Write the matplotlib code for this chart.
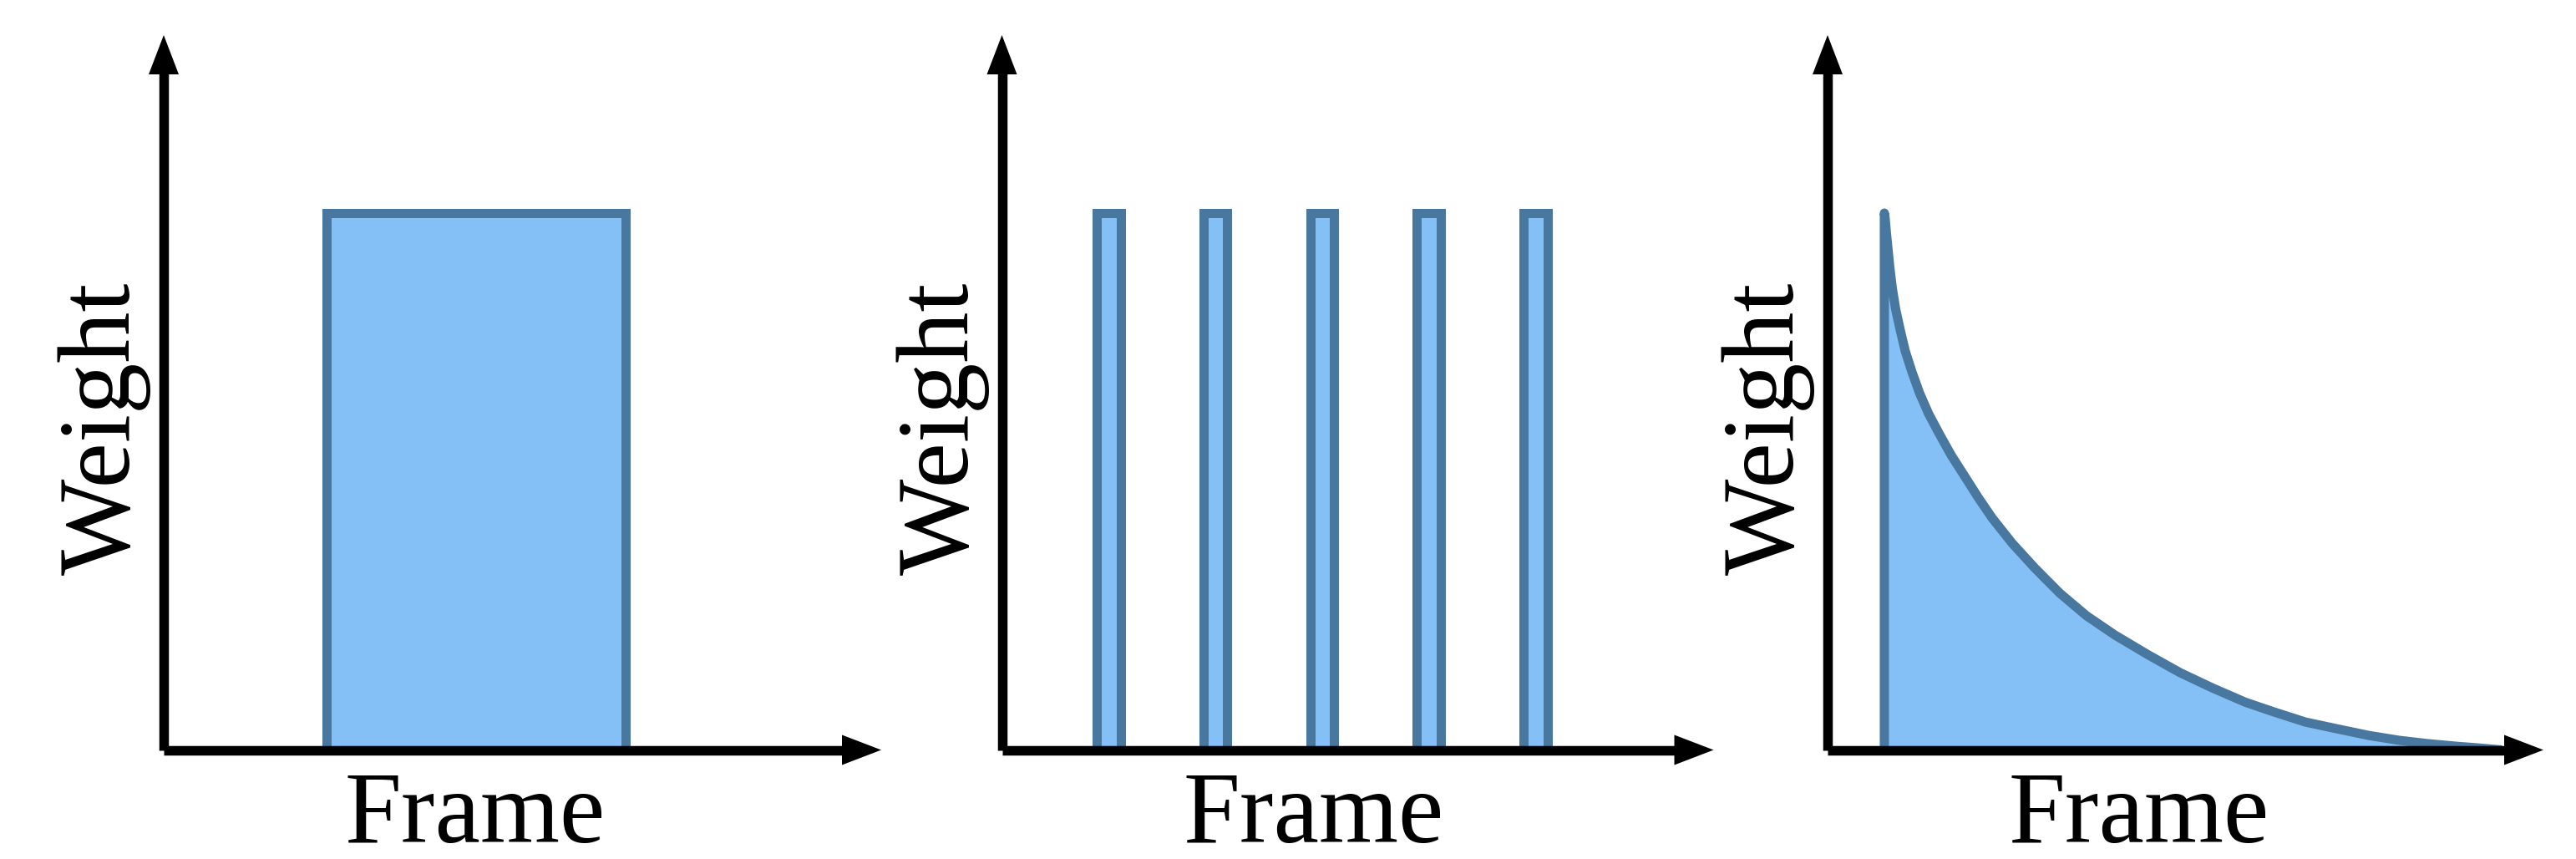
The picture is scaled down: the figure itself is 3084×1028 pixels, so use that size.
import matplotlib
matplotlib.use("Agg")
import matplotlib.pyplot as plt
from matplotlib.patches import Polygon
from matplotlib.lines import Line2D
from matplotlib.transforms import IdentityTransform

# ---------------- data (frame position in % of axis length, weight) ----------------
uniform_start = 22.7
uniform_end = 64.4
uniform_weight = 1.0

sparse_centers = [15.0, 30.0, 45.0, 60.0, 75.0]
sparse_width = 3.36
sparse_weights = [1.0, 1.0, 1.0, 1.0, 1.0]

decay_frames = [7.93, 7.93, 8.05, 8.23, 8.46, 8.69, 9.04, 9.51, 10.15, 10.85, 11.79,
                12.84, 14.12, 15.64, 17.27, 19.14, 21.00, 22.99, 25.79, 28.94, 32.44,
                36.17, 40.14, 44.81, 49.24, 53.68, 58.34, 62.31, 66.74, 70.95, 75.61,
                79.81, 83.66, 87.75, 90.67, 94.17]
decay_weights = [0.0, 1.0, 0.989, 0.961, 0.930, 0.899, 0.860, 0.821, 0.782, 0.743, 0.704,
                 0.665, 0.626, 0.588, 0.549, 0.510, 0.471, 0.432, 0.385, 0.339, 0.292,
                 0.250, 0.214, 0.177, 0.144, 0.116, 0.089, 0.071, 0.052, 0.040, 0.027,
                 0.018, 0.012, 0.007, 0.004, 0.0]

x_label = "Frame"
y_label = "Weight"

# ---------------- layout / style ----------------
W, H, DPI = 3084, 1028, 100
FILL = "#84BFF5"
EDGE = "#48779F"
LW = 11 * 72 / DPI            # 11 px strokes for the marks
AXLW = 11.5 * 72 / DPI        # axis line width
FONT = "Liberation Serif"
FS = 88

origin_x = [196.0, 1199.5, 2188.0]     # pixel x of the y-axis in each panel
axis_len = [859.0, 852.0, 857.0]       # pixel length of x-axis (to arrow tip)
origin_y = 897.5                       # pixel y (from top) of the x-axis
tip_y = 42.0                           # pixel y (from top) of y-arrow tip
y_len = origin_y - tip_y
unit_px = 642.5                        # pixels for weight = 1
ytop = y_len / unit_px
HEAD_L, HEAD_HW = 47.0, 18.0

fig = plt.figure(figsize=(W / DPI, H / DPI), dpi=DPI)
axes = []
for ox, L in zip(origin_x, axis_len):
    ax = fig.add_axes([ox / W, (H - origin_y) / H, L / W, y_len / H])
    ax.set_xlim(0, 100)
    ax.set_ylim(0, ytop)
    ax.axis("off")
    axes.append(ax)

# panel 1: uniform window
axes[0].bar([uniform_start], [uniform_weight], width=uniform_end - uniform_start,
            align="edge", color=FILL, edgecolor=EDGE, linewidth=LW, clip_on=False, zorder=2)

# panel 2: sparse sampling
axes[1].bar(sparse_centers, sparse_weights, width=sparse_width, align="center",
            color=FILL, edgecolor=EDGE, linewidth=LW, clip_on=False, zorder=2)

# panel 3: decaying weights
axes[2].fill_between(decay_frames, decay_weights, 0, color=FILL, linewidth=0, zorder=2)
axes[2].plot(decay_frames, decay_weights, color=EDGE, linewidth=LW,
             solid_capstyle="butt", solid_joinstyle="round", clip_on=False, zorder=3)

# axis arrows (drawn in output pixel coordinates)
ident = IdentityTransform()
yb = H - origin_y
for ox, L in zip(origin_x, axis_len):
    ytip = H - tip_y
    xtip = ox + L
    fig.add_artist(Line2D([ox, ox], [yb, ytip - HEAD_L + 2], lw=AXLW, color="black",
                          solid_capstyle="butt", transform=ident, zorder=10))
    fig.add_artist(Line2D([ox, xtip - HEAD_L + 2], [yb, yb], lw=AXLW, color="black",
                          solid_capstyle="butt", transform=ident, zorder=10))
    fig.add_artist(Polygon([(ox - HEAD_HW, ytip - HEAD_L), (ox + HEAD_HW, ytip - HEAD_L),
                            (ox, ytip)], closed=True, facecolor="black", edgecolor="none",
                           transform=ident, zorder=10))
    fig.add_artist(Polygon([(xtip - HEAD_L, yb - HEAD_HW), (xtip - HEAD_L, yb + HEAD_HW),
                            (xtip, yb)], closed=True, facecolor="black", edgecolor="none",
                           transform=ident, zorder=10))

# labels
for ox in origin_x:
    fig.text((ox + 373) / W, (H - 1008) / H, x_label, family=FONT, fontsize=FS,
             ha="center", va="baseline")
    fig.text((ox - 41) / W, (H - 513) / H, y_label, family=FONT, fontsize=FS,
             rotation=90, rotation_mode="anchor", ha="center", va="baseline")

fig.savefig("out.png", dpi=DPI, facecolor="white")
